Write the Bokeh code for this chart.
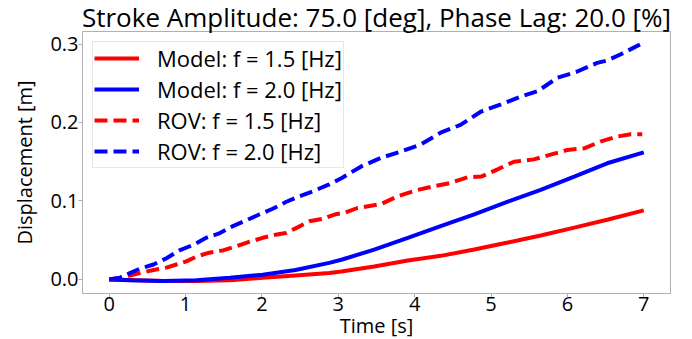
from bokeh.plotting import figure
from bokeh.models import Range1d, FixedTicker, Legend, LegendItem, CustomJSTickFormatter, Title
from bokeh.embed import file_html
from bokeh.resources import INLINE

title_text = "Stroke Amplitude: 75.0 [deg], Phase Lag: 20.0 [%]"
x_label = "Time [s]"
y_label = "Displacement [m]"

model15_t = [0, 0.71, 1.14, 1.58, 2.01, 2.44, 2.88, 3.04, 3.47, 3.91, 4.34, 4.78, 5.22, 5.65, 6.09, 6.52, 7.0]
model15_y = [0, -0.002, -0.002, -0.001, 0.002, 0.005, 0.008, 0.010, 0.0165, 0.024, 0.030, 0.038, 0.047, 0.056, 0.066, 0.076, 0.088]

model20_t = [0, 0.27, 0.71, 1.14, 1.58, 2.01, 2.44, 2.88, 3.04, 3.47, 3.91, 4.34, 4.78, 5.22, 5.65, 6.09, 6.52, 7.0]
model20_y = [0, -0.001, -0.002, -0.001, 0.002, 0.006, 0.012, 0.021, 0.025, 0.038, 0.053, 0.068, 0.083, 0.099, 0.114, 0.131, 0.148, 0.162]

rov15_t = [0, 0.14, 0.27, 0.40, 0.58, 0.75, 0.88, 1.01, 1.14, 1.31, 1.49, 1.66, 1.84, 2.01, 2.18, 2.31, 2.44, 2.62, 2.79, 2.96,
           3.09, 3.25, 3.56, 3.78, 4.04, 4.26, 4.47, 4.69, 4.87, 5.08, 5.30, 5.56, 5.78, 6.0, 6.22, 6.44, 6.65, 6.83, 6.98]
rov15_y = [0, 0.002, 0.005, 0.008, 0.012, 0.015, 0.019, 0.023, 0.029, 0.034, 0.037, 0.042, 0.048, 0.053, 0.057, 0.059, 0.065, 0.074, 0.077, 0.083,
           0.085, 0.091, 0.096, 0.106, 0.114, 0.119, 0.123, 0.130, 0.131, 0.140, 0.150, 0.153, 0.159, 0.165, 0.167, 0.176, 0.182, 0.185, 0.185]

rov20_t = [0, 0.14, 0.27, 0.40, 0.58, 0.75, 0.92, 1.10, 1.27, 1.45, 1.62, 1.79, 1.97, 2.14, 2.32, 2.49, 2.66, 2.88,
           3.04, 3.30, 3.56, 3.82, 4.08, 4.34, 4.60, 4.87, 5.13, 5.39, 5.61, 5.87, 6.13, 6.39, 6.52, 6.70, 6.98]
rov20_y = [0, 0.002, 0.008, 0.0136, 0.019, 0.027, 0.037, 0.044, 0.053, 0.059, 0.068, 0.075, 0.083, 0.090, 0.099, 0.106, 0.112, 0.121,
           0.129, 0.144, 0.155, 0.163, 0.172, 0.187, 0.197, 0.214, 0.223, 0.233, 0.240, 0.257, 0.265, 0.276, 0.279, 0.287, 0.301]

labels = ["Model: f = 1.5 [Hz]", "Model: f = 2.0 [Hz]", "ROV: f = 1.5 [Hz]", "ROV: f = 2.0 [Hz]"]
x_ticks = [0, 1, 2, 3, 4, 5, 6, 7]
y_ticks = [0.0, 0.1, 0.2, 0.3]

FONT = "Open Sans"

p = figure(width=692, height=339, output_backend="svg", toolbar_location=None,
           x_range=Range1d(-0.35, 7.35), y_range=Range1d(-0.018, 0.316),
           min_border_left=82, min_border_right=22, min_border_top=0, min_border_bottom=0)
p.title.text = title_text
p.title.text_font = FONT
p.title.text_font_size = "26px"
p.title.text_font_style = "normal"
p.title.text_color = "black"
p.title.align = "center"
p.title.offset = 0
p.title.standoff = -7

p.grid.visible = False
p.outline_line_color = "#b0b0b0"
p.outline_line_width = 1

for ax in (p.xaxis[0], p.yaxis[0]):
    ax.axis_line_color = "#b0b0b0"
    ax.major_tick_line_color = "#b0b0b0"
    ax.major_tick_out = 4
    ax.major_tick_in = 0
    ax.minor_tick_line_color = None
    ax.major_label_text_font = FONT
    ax.major_label_text_font_size = "20px"
    ax.major_label_text_color = "black"
    ax.axis_label_text_font = FONT
    ax.axis_label_text_font_size = "20px"
    ax.axis_label_text_font_style = "normal"
    ax.axis_label_text_color = "black"

p.xaxis.ticker = FixedTicker(ticks=x_ticks)
p.yaxis.ticker = FixedTicker(ticks=y_ticks)
p.yaxis.formatter = CustomJSTickFormatter(code="return tick.toFixed(1);")
p.yaxis.axis_label = y_label
p.xaxis.major_label_standoff = -1
p.yaxis.major_label_standoff = 0
p.yaxis.axis_label_standoff = 9

p.add_layout(Title(text=x_label, text_font=FONT, text_font_size="20px", text_font_style="normal",
                   text_color="black", align="center", vertical_align="top", standoff=-3, offset=0), "below")

r1 = p.line(model15_t, model15_y, line_color="red", line_width=4)
r2 = p.line(model20_t, model20_y, line_color="blue", line_width=4)
r3 = p.line(rov15_t, rov15_y, line_color="red", line_width=4, line_dash="13 6")
r4 = p.line(rov20_t, rov20_y, line_color="blue", line_width=4, line_dash="13 6")

legend = Legend(items=[LegendItem(label=labels[0], renderers=[r1]),
                       LegendItem(label=labels[1], renderers=[r2]),
                       LegendItem(label=labels[2], renderers=[r3]),
                       LegendItem(label=labels[3], renderers=[r4])],
                location="top_left")
legend.margin = 10
legend.padding = 1
legend.spacing = 1
legend.glyph_width = 45
legend.glyph_height = 20
legend.label_height = 20
legend.label_standoff = 18
legend.label_text_font = FONT
legend.label_text_font_size = "22px"
legend.label_text_color = "black"
legend.border_line_color = "#d0d0d0"
legend.border_line_width = 1
legend.background_fill_alpha = 0.8
p.add_layout(legend)

open("out.html", "w").write(file_html(p, INLINE))
